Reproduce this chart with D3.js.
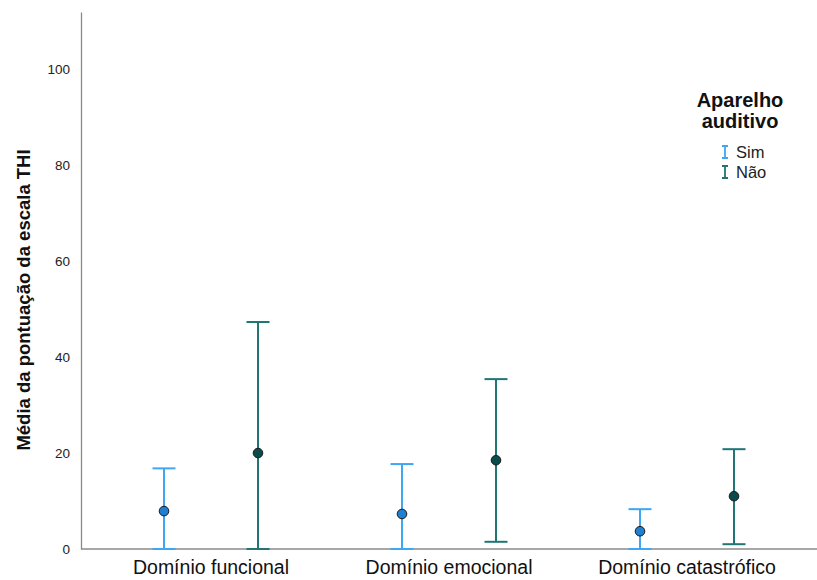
<!DOCTYPE html>
<html>
<head>
<meta charset="utf-8">
<script src="https://cdn.jsdelivr.net/npm/d3@7"></script>
<style>
  body { margin: 0; background: #fff; }
  svg { font-family: "Liberation Sans", Arial, sans-serif; }
</style>
</head>
<body>
<svg id="chart" width="817" height="580"></svg>
<script>
// data
const categories = ['Domínio funcional', 'Domínio emocional', 'Domínio catastrófico'];
const groups = ['Sim', 'Não'];
const simMean = [7.9, 7.3, 3.7];
const simLow = [0, 0, 0];
const simHigh = [16.8, 17.7, 8.3];
const naoMean = [20.0, 18.5, 11.0];
const naoLow = [0, 1.5, 1.0];
const naoHigh = [47.3, 35.4, 20.8];
const yTicks = [0, 20, 40, 60, 80, 100];

const barColor = { 'Sim': '#3ea6f2', 'Não': '#217575' };
const dotColor = { 'Sim': '#1f7fd0', 'Não': '#0c4b4b' };

const svg = d3.select('#chart');
const margin = { left: 81, right: 11, top: 12, bottom: 31 };
const W = 817, H = 580;

const x = d3.scaleBand().domain(categories).range([92, 806]);
const xg = d3.scalePoint().domain(groups).range([x.bandwidth() / 2 - 47, x.bandwidth() / 2 + 47]);
const y = d3.scaleLinear().domain([0, 111.9]).range([H - margin.bottom, margin.top]);

const rows = [];
categories.forEach((c, i) => {
  rows.push({ cat: c, g: 'Sim', mean: simMean[i], lo: simLow[i], hi: simHigh[i] });
  rows.push({ cat: c, g: 'Não', mean: naoMean[i], lo: naoLow[i], hi: naoHigh[i] });
});

// axes
const yAxis = svg.append('g').attr('transform', `translate(${margin.left},0)`)
  .call(d3.axisLeft(y).tickValues(yTicks).tickSize(0).tickPadding(11));
yAxis.select('.domain').attr('stroke', '#8a8a8a').attr('stroke-width', 1.3);
yAxis.selectAll('text').attr('font-size', 13.5).attr('fill', '#222').attr('font-family', '"Liberation Sans", Arial, sans-serif');

const xAxis = svg.append('g').attr('transform', `translate(0,${y(0)})`)
  .call(d3.axisBottom(x).tickSize(0).tickPadding(11));
xAxis.select('.domain').attr('d', `M${margin.left},0H${W}`).attr('stroke', '#8a8a8a').attr('stroke-width', 1.3);
xAxis.selectAll('text').attr('font-size', 19.5).attr('fill', '#111').attr('font-family', '"Liberation Sans", Arial, sans-serif');

svg.append('text')
  .attr('transform', 'translate(30,300) rotate(-90)')
  .attr('text-anchor', 'middle')
  .attr('font-size', 18.5).attr('font-weight', 'bold').attr('fill', '#111')
  .text('Média da pontuação da escala THI');

// error bars
const capW = 23;
const bars = svg.append('g').selectAll('g').data(rows).join('g')
  .attr('transform', d => `translate(${x(d.cat) + xg(d.g)},0)`);
bars.append('line').attr('y1', d => y(d.lo)).attr('y2', d => y(d.hi))
  .attr('stroke', d => barColor[d.g]).attr('stroke-width', 2);
bars.append('line').attr('x1', -capW / 2).attr('x2', capW / 2)
  .attr('y1', d => y(d.hi)).attr('y2', d => y(d.hi))
  .attr('stroke', d => barColor[d.g]).attr('stroke-width', 2);
bars.append('line').attr('x1', -capW / 2).attr('x2', capW / 2)
  .attr('y1', d => y(d.lo)).attr('y2', d => y(d.lo))
  .attr('stroke', d => barColor[d.g]).attr('stroke-width', 2);
bars.append('circle').attr('cy', d => y(d.mean)).attr('r', 4.8)
  .attr('fill', d => dotColor[d.g]).attr('stroke', '#1a1a1a').attr('stroke-width', 1);

// legend
const lg = svg.append('g').attr('transform', 'translate(740,0)');
lg.append('text').attr('y', 107).attr('text-anchor', 'middle')
  .attr('font-size', 20).attr('font-weight', 'bold').attr('fill', '#111').text('Aparelho');
lg.append('text').attr('y', 128).attr('text-anchor', 'middle')
  .attr('font-size', 20).attr('font-weight', 'bold').attr('fill', '#111').text('auditivo');
groups.forEach((g, i) => {
  const item = lg.append('g').attr('transform', `translate(-15,${152 + i * 20})`);
  item.append('path').attr('d', 'M-3,-6H3M0,-6V6M-3,6H3')
    .attr('stroke', barColor[g]).attr('stroke-width', 1.8).attr('fill', 'none');
  item.append('text').attr('x', 11).attr('y', 6)
    .attr('font-size', 16.5).attr('fill', '#222').text(g);
});
</script>
</body>
</html>
